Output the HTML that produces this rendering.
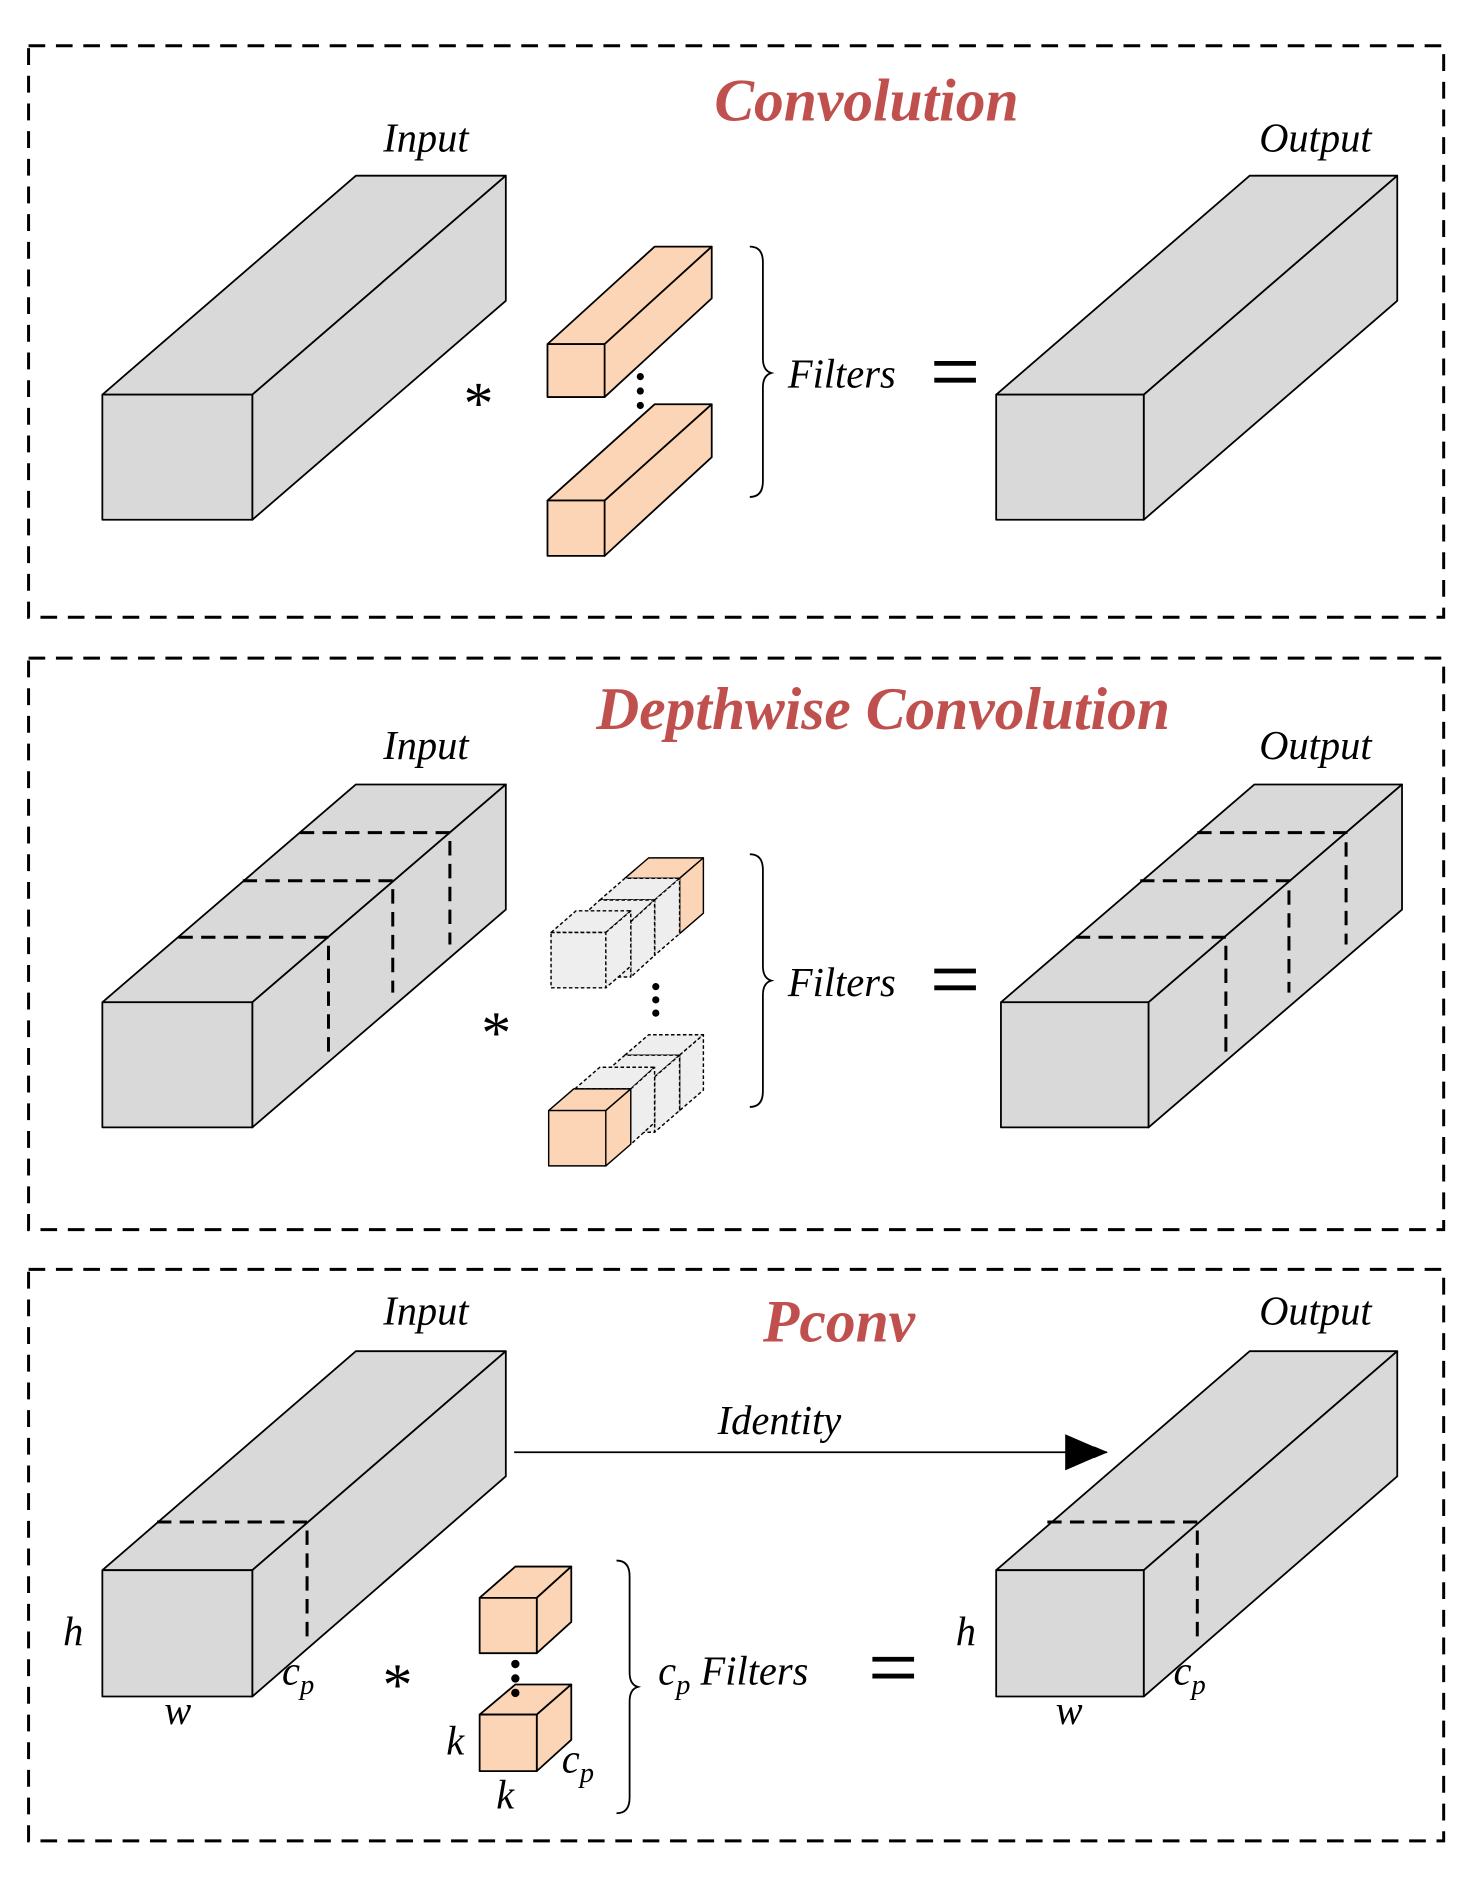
<!DOCTYPE html>
<html><head><meta charset="utf-8"><style>
html,body{margin:0;padding:0;background:#fff;}
svg{display:block;}
text{font-family:"Liberation Serif",serif;}
.lab{font-style:italic;font-size:34px;fill:#000;}
.title{font-style:italic;font-weight:bold;font-size:50px;fill:#c0504d;}
</style></head><body>
<svg width="1477" height="1877" viewBox="0 0 1241 1560" preserveAspectRatio="none" xmlns="http://www.w3.org/2000/svg">
<defs>
<marker id="ah" markerWidth="12" markerHeight="10" refX="11" refY="5" orient="auto" markerUnits="userSpaceOnUse" viewBox="0 0 12 10"><path d="M0,0 L12,5 L0,10 z" fill="#000"/></marker>
</defs>
<g fill="none" stroke="#000" stroke-width="2.5" stroke-dasharray="14,9">
<rect x="24" y="38" width="1189" height="475"/>
<rect x="24" y="547" width="1189" height="475"/>
<rect x="24" y="1055" width="1189" height="475"/>
</g>
<g stroke="#000" stroke-width="1.5" fill="#d9d9d9" stroke-linejoin="round">
<!-- panel1 input -->
<polygon points="86,328 299,146 425,146 212,328"/>
<polygon points="212,328 425,146 425,250 212,432"/>
<rect x="86" y="328" width="126" height="104"/>
<!-- panel1 output -->
<polygon points="837,328 1050,146 1174,146 961,328"/>
<polygon points="961,328 1174,146 1174,250 961,432"/>
<rect x="837" y="328" width="124" height="104"/>
<!-- panel2 input -->
<polygon points="86,833 299,652 425,652 212,833"/>
<polygon points="212,833 425,652 425,756 212,937"/>
<rect x="86" y="833" width="126" height="104"/>
<!-- panel2 output -->
<polygon points="841,833 1054,652 1178,652 965,833"/>
<polygon points="965,833 1178,652 1178,756 965,937"/>
<rect x="841" y="833" width="124" height="104"/>
<!-- panel3 input -->
<polygon points="86,1305 299,1123 425,1123 212,1305"/>
<polygon points="212,1305 425,1123 425,1227 212,1410"/>
<rect x="86" y="1305" width="126" height="105"/>
<!-- panel3 output -->
<polygon points="837,1305 1050,1123 1174,1123 961,1305"/>
<polygon points="961,1305 1174,1123 1174,1227 961,1410"/>
<rect x="837" y="1305" width="124" height="105"/>
</g>
<!-- dashed slices -->
<g fill="none" stroke="#000" stroke-width="2.5" stroke-dasharray="12,7">
<path d="M252,692 H378 V785 M204,732 H330 V825 M150,779 H276 V875"/>
<path d="M1006,692 H1131 V785 M958,732 H1083 V825 M904,779 H1030 V875"/>
<path d="M132,1265 H258 V1360"/>
<path d="M880,1265 H1006 V1360"/>
</g>
<!-- filters panel 1 -->
<g stroke="#000" stroke-width="1.5" fill="#fbd5b5" stroke-linejoin="round">
<polygon points="460,286 550,205 598,205 508,286"/>
<polygon points="508,286 598,205 598,248 508,330"/>
<rect x="460" y="286" width="48" height="44"/>
<polygon points="460,416 550,336 598,336 508,416"/>
<polygon points="508,416 598,336 598,380 508,462"/>
<rect x="460" y="416" width="48" height="46"/>
</g>
<!-- depthwise filters -->
<g stroke="#000" stroke-width="1.2" stroke-linejoin="round">
<!-- top group: back orange -->
<g fill="#fbd5b5"><polygon points="525,730 545,713 591,713 571,730"/><polygon points="571,730 591,713 591,759 571,776"/><rect x="525" y="730" width="46" height="46"/></g>
<g fill="#eeeeee" stroke-dasharray="3,2">
<polygon points="504,748 525,730 571,730 550,748"/><polygon points="550,748 571,730 571,776 550,794"/><rect x="504" y="748" width="46" height="46"/>
<polygon points="484,766 504,748 550,748 530,766"/><polygon points="530,766 550,748 550,794 530,812"/><rect x="484" y="766" width="46" height="46"/>
<polygon points="463,775 484,757 530,757 509,775"/><polygon points="509,775 530,757 530,803 509,821"/><rect x="463" y="775" width="46" height="46"/>
</g>
<!-- bottom group -->
<g fill="#eeeeee" stroke-dasharray="3,2">
<polygon points="525,877 545,860 591,860 571,877"/><polygon points="571,877 591,860 591,906 571,923"/><rect x="525" y="877" width="46" height="46"/>
<polygon points="504,895 525,877 571,877 550,895"/><polygon points="550,895 571,877 571,923 550,941"/><rect x="504" y="895" width="46" height="46"/>
<polygon points="483,905 504,887 550,887 530,905"/><polygon points="530,905 550,887 550,933 530,951"/><rect x="483" y="905" width="46" height="46"/>
</g>
<g fill="#fbd5b5"><polygon points="461,923 482,905 530,905 509,923"/><polygon points="509,923 530,905 530,951 509,969"/><rect x="461" y="923" width="48" height="46"/></g>
</g>
<!-- pconv cubes -->
<g stroke="#000" stroke-width="1.5" fill="#fbd5b5" stroke-linejoin="round">
<polygon points="403,1328 433,1302 480,1302 451,1328"/>
<polygon points="451,1328 480,1302 480,1348 451,1374"/>
<rect x="403" y="1328" width="48" height="46"/>
<polygon points="403,1425 433,1400 480,1400 451,1425"/>
<polygon points="451,1425 480,1400 480,1446 451,1472"/>
<rect x="403" y="1425" width="48" height="47"/>
</g>
<!-- dots -->
<g fill="#000">
<circle cx="538" cy="313" r="3"/><circle cx="538" cy="325" r="3"/><circle cx="538" cy="337" r="3"/>
<circle cx="551" cy="820" r="3"/><circle cx="551" cy="831" r="3"/><circle cx="551" cy="842" r="3"/>
<circle cx="433" cy="1383" r="3.5"/><circle cx="433" cy="1395" r="3.5"/><circle cx="433" cy="1407" r="3.5"/>
</g>
<!-- braces -->
<g fill="none" stroke="#000" stroke-width="1.5">
<path d="M630,205 Q641,205 641,218 V298 Q641,308 648,310 Q641,312 641,322 V400 Q641,413 630,413"/>
<path d="M630,710 Q641,710 641,723 V803 Q641,813 648,815 Q641,817 641,827 V907 Q641,920 630,920"/>
<path d="M518,1297 Q529,1297 529,1310 V1390 Q529,1400 536,1402 Q529,1404 529,1414 V1494 Q529,1507 518,1507"/>
</g>
<!-- arrow -->
<line x1="432" y1="1207" x2="930" y2="1207" stroke="#000" stroke-width="1.5" marker-end="url(#ah)"/>
<path d="M895,1192 L930,1207 L895,1222 z" fill="#000"/>
<!-- equals -->
<g stroke="#000" stroke-width="4">
<path d="M785,302 H820 M785,316 H820"/>
<path d="M785,807 H820 M785,821 H820"/>
<path d="M733,1379 H768 M733,1393 H768"/>
</g>
<!-- text -->
<text class="title" x="728" y="100" text-anchor="middle">Convolution</text>
<text class="title" x="742" y="606" text-anchor="middle">Depthwise Convolution</text>
<text class="title" x="705" y="1115" text-anchor="middle">Pconv</text>
<text class="lab" x="322" y="126">Input</text>
<text class="lab" x="1058" y="126">Output</text>
<text class="lab" x="322" y="631">Input</text>
<text class="lab" x="1058" y="631">Output</text>
<text class="lab" x="322" y="1101">Input</text>
<text class="lab" x="1058" y="1101">Output</text>
<text class="lab" x="662" y="322">Filters</text>
<text class="lab" x="662" y="828">Filters</text>
<text class="lab" x="603" y="1192">Identity</text>
<text class="lab" x="553" y="1400">c<tspan font-size="24" dy="8">p</tspan><tspan dy="-8"> Filters</tspan></text>
<text x="402" y="352" font-size="50" text-anchor="middle" font-family="Liberation Sans">*</text>
<text x="417" y="875" font-size="50" text-anchor="middle" font-family="Liberation Sans">*</text>
<text x="334" y="1417" font-size="50" text-anchor="middle" font-family="Liberation Sans">*</text>
<text class="lab" x="53" y="1367">h</text>
<text class="lab" x="138" y="1433">w</text>
<text class="lab" x="237" y="1400">c<tspan font-size="24" dy="8">p</tspan></text>
<text class="lab" x="803" y="1367">h</text>
<text class="lab" x="887" y="1433">w</text>
<text class="lab" x="986" y="1400">c<tspan font-size="24" dy="8">p</tspan></text>
<text class="lab" x="375" y="1458">k</text>
<text class="lab" x="417" y="1503">k</text>
<text class="lab" x="472" y="1473">c<tspan font-size="24" dy="8">p</tspan></text>
</svg>
</body></html>
